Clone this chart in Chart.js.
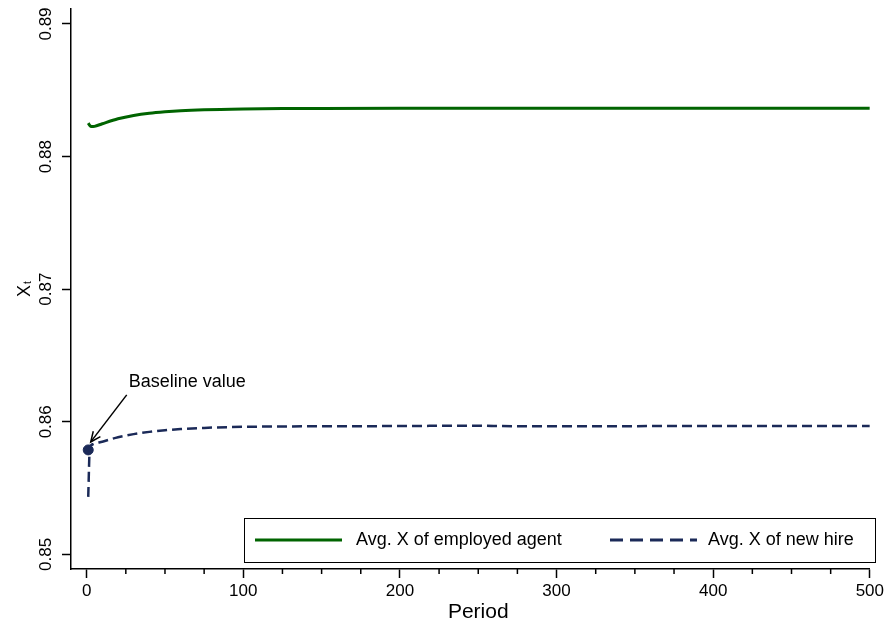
<!DOCTYPE html>
<html>
<head>
<meta charset="utf-8">
<script src="https://cdn.jsdelivr.net/npm/chart.js@4/dist/chart.umd.min.js"></script>
<style>
  body { margin: 0; background: #fff; }
  canvas { display: block; }
</style>
</head>
<body>
<canvas id="xtChart" width="887" height="628"></canvas>
<script>
// periods sampled along the simulation
var periods = [1, 2, 3, 5, 10, 20, 30, 40, 50, 60, 75, 100, 125, 150, 200, 250, 260, 300, 400, 500];
// average X of employed agents
var employedX = [0.88252, 0.88234, 0.88226, 0.88228, 0.88248, 0.88285, 0.88310, 0.88327, 0.88338, 0.88346,
                 0.88353, 0.88359, 0.88362, 0.88363, 0.88364, 0.88364, 0.88364, 0.88364, 0.88364, 0.88364];
// average X of new hires
var newHireX = [0.85434, 0.85805, 0.85826, 0.85836, 0.85850, 0.85884, 0.85907, 0.85924, 0.85936, 0.85945,
                0.85954, 0.85962, 0.85965, 0.85966, 0.85968, 0.85971, 0.85968, 0.85967, 0.85968, 0.85969];
var baselinePeriod = 1;
var baselineValue = 0.85788;

var xTicks = [0, 100, 200, 300, 400, 500];
var xMinorTicks = [25, 50, 75, 125, 150, 175, 225, 250, 275, 325, 350, 375, 425, 450, 475];
var yTicks = [0.85, 0.86, 0.87, 0.88, 0.89];
var yTickLabels = ['0.85', '0.86', '0.87', '0.88', '0.89'];

var FONT = '"Liberation Sans", Arial, sans-serif';
var GREEN = '#006400';
var NAVY = '#1b2a58';

function toPoints(xs, ys) {
    var out = [];
    for (var i = 0; i < xs.length; i++) out.push({x: xs[i], y: ys[i]});
    return out;
}

function fixedTicks(values) {
    return function(scale) {
        scale.ticks = values.map(function(v) { return {value: v}; });
    };
}

// extra drawing: minor ticks, rotated y labels, axis title, legend, annotation
var decor = {
    id: 'decor',
    afterDraw: function(chart) {
        var ctx = chart.ctx;
        var xs = chart.scales.x, ys = chart.scales.y;
        var area = chart.chartArea;
        ctx.save();

        // minor ticks on the period axis
        ctx.strokeStyle = '#000';
        ctx.lineWidth = 1.5;
        xMinorTicks.forEach(function(v) {
            var px = xs.getPixelForValue(v);
            ctx.beginPath();
            ctx.moveTo(px, area.bottom);
            ctx.lineTo(px, area.bottom + 5);
            ctx.stroke();
        });

        // vertical y tick labels
        ctx.fillStyle = '#000';
        ctx.font = '17px ' + FONT;
        ctx.textAlign = 'center';
        ctx.textBaseline = 'middle';
        yTicks.forEach(function(v, i) {
            var py = ys.getPixelForValue(v);
            ctx.save();
            ctx.translate(46, py);
            ctx.rotate(-Math.PI / 2);
            ctx.fillText(yTickLabels[i], 0, 0);
            ctx.restore();
        });

        // y axis title X with subscript t
        ctx.save();
        ctx.translate(30, 290);
        ctx.rotate(-Math.PI / 2);
        ctx.textAlign = 'left';
        ctx.textBaseline = 'alphabetic';
        ctx.font = '18px ' + FONT;
        ctx.fillText('X', -7, 0);
        ctx.font = '10px ' + FONT;
        ctx.fillText('t', 6, 1);
        ctx.restore();

        // legend box
        ctx.lineWidth = 1;
        ctx.strokeStyle = '#000';
        ctx.strokeRect(244.5, 518.5, 631, 44);
        var ly = 540;
        ctx.lineWidth = 3;
        ctx.strokeStyle = chart.data.datasets[0].borderColor;
        ctx.beginPath(); ctx.moveTo(255, ly); ctx.lineTo(342, ly); ctx.stroke();
        ctx.strokeStyle = chart.data.datasets[1].borderColor;
        ctx.setLineDash([13, 7]);
        ctx.beginPath(); ctx.moveTo(610, ly); ctx.lineTo(697, ly); ctx.stroke();
        ctx.setLineDash([]);
        ctx.font = '18px ' + FONT;
        ctx.textAlign = 'left';
        ctx.textBaseline = 'middle';
        ctx.fillStyle = '#000';
        ctx.fillText(chart.data.datasets[0].label, 356, ly);
        ctx.fillText(chart.data.datasets[1].label, 708, ly);

        // baseline annotation
        var bx = xs.getPixelForValue(baselinePeriod);
        var by = ys.getPixelForValue(baselineValue);
        var tipX = bx + 2.5, tipY = by - 8;
        var tailX = bx + 38.5, tailY = by - 55;
        ctx.strokeStyle = '#000';
        ctx.lineWidth = 1.5;
        ctx.beginPath(); ctx.moveTo(tailX, tailY); ctx.lineTo(tipX, tipY); ctx.stroke();
        var ang = Math.atan2(tipY - tailY, tipX - tailX);
        var head = 11, spread = 0.42;
        ctx.beginPath();
        ctx.moveTo(tipX - head * Math.cos(ang - spread), tipY - head * Math.sin(ang - spread));
        ctx.lineTo(tipX, tipY);
        ctx.lineTo(tipX - head * Math.cos(ang + spread), tipY - head * Math.sin(ang + spread));
        ctx.stroke();
        ctx.font = '18px ' + FONT;
        ctx.fillText('Baseline value', bx + 40.5, by - 68);

        // axis title, centred under the plotted period range
        ctx.font = '21px ' + FONT;
        ctx.textAlign = 'center';
        ctx.textBaseline = 'middle';
        ctx.fillText(xs.options.title.text, (xs.getPixelForValue(0) + xs.getPixelForValue(500)) / 2, 612);

        ctx.restore();
    }
};

var ctx = document.getElementById('xtChart').getContext('2d');
var chart = new Chart(ctx, {
    type: 'line',
    data: {
        datasets: [
            {
                label: 'Avg. X of employed agent',
                data: toPoints(periods, employedX),
                borderColor: GREEN,
                borderWidth: 3,
                pointRadius: 0,
                cubicInterpolationMode: 'monotone',
                fill: false
            },
            {
                label: 'Avg. X of new hire',
                data: toPoints(periods, newHireX),
                borderColor: NAVY,
                borderWidth: 2.5,
                borderDash: [10, 5],
                pointRadius: 0,
                cubicInterpolationMode: 'monotone',
                fill: false
            },
            {
                label: 'Baseline value',
                data: [{x: baselinePeriod, y: baselineValue}],
                showLine: false,
                pointRadius: 5,
                pointBackgroundColor: NAVY,
                pointBorderColor: NAVY,
                borderColor: NAVY
            }
        ]
    },
    options: {
        responsive: false,
        animation: false,
        layout: { padding: { left: 0, top: 9, right: 16, bottom: 0 } },
        plugins: {
            legend: { display: false },
            tooltip: { enabled: false }
        },
        scales: {
            x: {
                type: 'linear',
                min: -10,
                max: 500,
                afterFit: function(s) { s.height = 59; },
                afterBuildTicks: fixedTicks(xTicks),
                ticks: {
                    color: '#000',
                    padding: 3,
                    maxRotation: 0,
                    autoSkip: false,
                    font: { family: FONT, size: 17 }
                },
                grid: { drawOnChartArea: false, tickLength: 9, tickColor: '#000', tickWidth: 1.5 },
                border: { color: '#000', width: 1.5 },
                // drawn by the decor plugin
                title: { display: false, text: 'Period' }
            },
            y: {
                type: 'linear',
                min: 0.8489,
                max: 0.89113,
                afterFit: function(s) { s.width = 71; },
                afterBuildTicks: fixedTicks(yTicks),
                ticks: {
                    color: 'rgba(0,0,0,0)',
                    autoSkip: false,
                    font: { family: FONT, size: 2 }
                },
                grid: { drawOnChartArea: false, tickLength: 9, tickColor: '#000', tickWidth: 1.5 },
                border: { color: '#000', width: 1.5 }
            }
        }
    },
    plugins: [decor]
});
</script>
</body>
</html>
